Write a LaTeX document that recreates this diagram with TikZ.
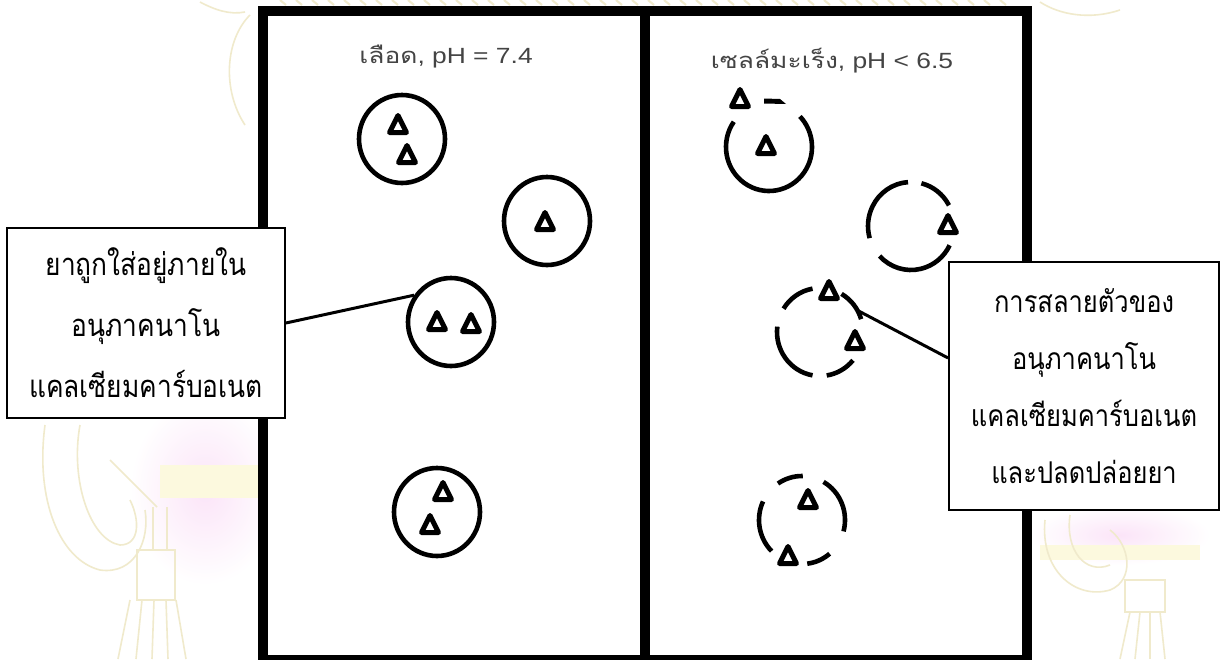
\documentclass[tikz,border=0pt]{standalone}
\usepackage{fontspec}
\usetikzlibrary{shapes.geometric}
\setmainfont{Liberation Sans}
\newfontfamily\thaitext[Script=Thai,FakeStretch=0.85]{Loma}
\newfontfamily\headlat[FakeStretch=1.2]{Liberation Sans}
\newfontfamily\headthai[Script=Thai,FakeStretch=1.2]{Loma}

\definecolor{headgray}{RGB}{68,68,68}
\definecolor{wmgold}{RGB}{240,234,204}
\definecolor{wmpink}{RGB}{251,228,248}
\definecolor{wmyellow}{RGB}{252,249,222}

% open arc of a dissolving particle shell
\newcommand\shellarc[3]{\draw[shellline] (#1.center) ++(#2:43pt and 44pt)
  arc[start angle=#2, end angle=#3, x radius=43pt, y radius=44pt];}

\tikzset{
  frameline/.style={line width=10pt},
  shell/.style={ellipse, draw, line width=4.6pt, minimum width=86pt,
    minimum height=88pt, inner sep=0pt},
  ghost/.style={ellipse, minimum width=86pt, minimum height=88pt,
    inner sep=0pt, outer sep=0pt},
  shellline/.style={line width=4.6pt},
  lead/.style={line width=3pt},
  callout/.style={draw, line width=1.8pt, fill=white, align=center,
    inner sep=0pt},
  title/.style={text=headgray, anchor=base, inner sep=0pt,
    font=\headlat\fontsize{22}{26}\selectfont},
  drug/.pic={\draw[line width=5pt, line join=round]
    (0,-9.5) -- (-8.5,7.5) -- (8.5,7.5) -- cycle;},
}

\begin{document}
\begin{tikzpicture}[x=1pt,y=-1pt]
\useasboundingbox (0,0) rectangle (1228,659);
\fill[white] (0,0) rectangle (1228,659);

% faint background emblem
\shade[inner color=wmpink, outer color=white] (205,490) ellipse (75pt and 95pt);
\shade[inner color=wmpink, outer color=white] (1120,535) ellipse (90pt and 30pt);
\fill[wmyellow] (160,465) rectangle (258,498);
\fill[wmyellow] (1040,545) rectangle (1200,560);
\begin{scope}[draw=wmgold, line width=1.6pt]
  \draw (45,425) .. controls (35,500) and (60,560) .. (100,570)
        .. controls (135,575) and (150,540) .. (145,510);
  \draw (80,425) .. controls (70,480) and (90,540) .. (120,545)
        .. controls (140,545) and (140,520) .. (130,500);
  \draw (110,460) -- (157,507);
  \draw (153,507) -- (153,550) (167,507) -- (167,550);
  \draw (137,550) rectangle (175,600);
  \foreach \sx/\ex in {130/118,142/136,154/152,166/168,176/186}
    \draw (\sx,600) -- (\ex,659);
  \draw (250,15) .. controls (225,40) and (222,90) .. (245,125);
  \draw (200,2) .. controls (215,10) and (230,15) .. (245,12);
  \draw (1045,520) .. controls (1040,570) and (1075,600) .. (1110,590)
        .. controls (1135,580) and (1130,545) .. (1110,530);
  \draw (1070,515) .. controls (1065,550) and (1085,575) .. (1110,565);
  \draw (1125,580) rectangle (1165,612);
  \foreach \sx/\ex in {1130/1120,1140/1135,1150/1150,1160/1165}
    \draw (\sx,612) -- (\ex,659);
  \draw (1040,2) .. controls (1060,15) and (1090,20) .. (1120,10);
  \foreach \tx in {280,296,...,1000}
    \draw[line width=2pt] (\tx,0) -- (\tx+6,5);
\end{scope}

% the two compartments
\draw[frameline, fill=white] (263,11) rectangle (1027,660);
\draw[frameline] (645,11) -- (645,660);

% compartment headings
\node[title] (tBlood) at (446,63) {{\headthai เลือด}, pH = 7.4};
\node[title] (tTumor) at (832,68) {{\headthai เซลล์มะเร็ง}, pH < 6.5};

% intact particles in blood
\node[shell] (pA) at (402,139) {};
\pic at (398,125) {drug};
\pic at (407,155) {drug};
\node[shell] (pB) at (547,221) {};
\pic at (545,222) {drug};
\node[shell] (pC) at (451,322) {};
\pic at (437,322) {drug};
\pic at (471,324) {drug};
\node[shell] (pD) at (437,512) {};
\pic at (443,492) {drug};
\pic at (430,525) {drug};

% dissolving particles in tumour cells
\node[ghost] (pR1) at (769,147) {};
\shellarc{pR1}{145}{404}
\pic at (766,146) {drug};
\pic at (740,99) {drug};
\fill (764,98.5) -- (780,99) -- (786,104) -- (764,103.5) -- cycle;

\node[ghost] (pR2) at (911,226) {};
\shellarc{pR2}{94}{196}
\shellarc{pR2}{223}{334}
\shellarc{pR2}{28}{76}
\pic at (948,225) {drug};

\node[ghost] (pR3) at (820,332) {};
\shellarc{pR3}{100}{148}
\shellarc{pR3}{17}{60}
\shellarc{pR3}{173}{260}
\shellarc{pR3}{279}{320}
\pic at (829,291) {drug};
\pic at (855,341) {drug};

\node[ghost] (pR4) at (802,520) {};
\shellarc{pR4}{89}{124}
\shellarc{pR4}{-15}{60}
\shellarc{pR4}{155}{225}
\shellarc{pR4}{277}{310}
\pic at (808,500) {drug};
\pic at (788,556) {drug};

% callouts
\node[callout, minimum width=278pt, minimum height=190pt,
  font=\thaitext\fontsize{31}{61}\selectfont] (boxL) at (146,323)
  {ยาถูกใส่อยู่ภายใน\\อนุภาคนาโน\\แคลเซียมคาร์บอเนต};
\node[callout, minimum width=270pt, minimum height=248pt,
  font=\thaitext\fontsize{30}{57}\selectfont] (boxR) at (1084,386)
  {การสลายตัวของ\\อนุภาคนาโน\\แคลเซียมคาร์บอเนต\\และปลดปล่อยยา};

\draw[lead] (boxL.east) -- (pC.144);
\draw[lead] ([yshift=28pt]boxR.west) -- (pR3.30);
\end{tikzpicture}
\end{document}
